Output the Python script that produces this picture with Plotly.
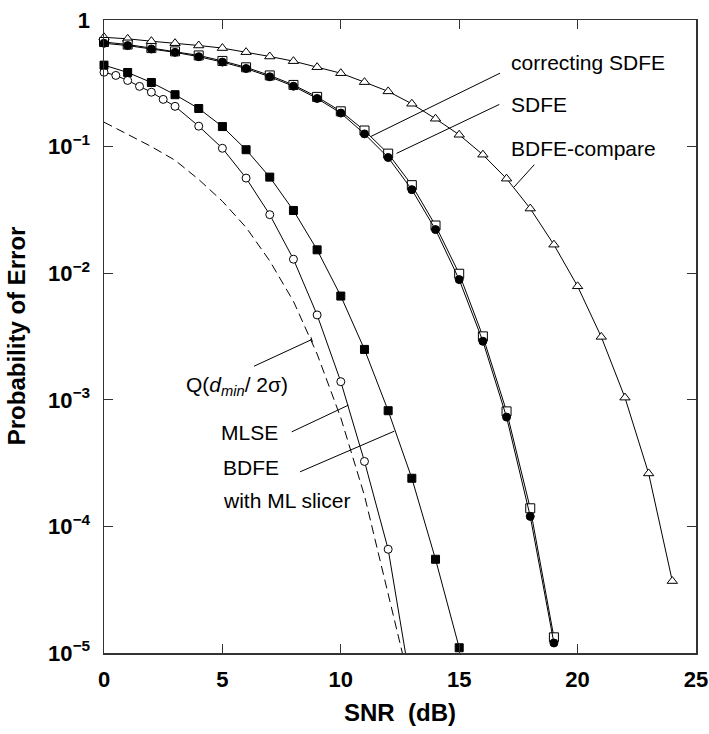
import plotly.graph_objects as go

# ---------------- data ----------------
snr_compare = list(range(0, 25))
bdfe_compare = [0.73, 0.71, 0.68, 0.656, 0.629, 0.60, 0.557, 0.515, 0.473, 0.424,
                0.38, 0.323, 0.273, 0.218, 0.166, 0.124, 0.0863, 0.0558, 0.0324,
                0.0168, 0.00788, 0.00314, 0.00104, 2.62e-4, 3.7e-5]

snr_sdfe = list(range(0, 20))
sdfe = [0.67, 0.64, 0.60, 0.565, 0.525, 0.475, 0.423, 0.365, 0.307, 0.247,
        0.19, 0.134, 0.088, 0.0496, 0.0238, 0.0099, 0.00317, 8.1e-4, 1.39e-4, 1.33e-5]
corr_sdfe = [0.655, 0.628, 0.59, 0.555, 0.513, 0.465, 0.414, 0.356, 0.300, 0.240,
             0.184, 0.126, 0.082, 0.0457, 0.0221, 0.0089, 0.0029, 7.3e-4, 1.2e-4, 1.2e-5]

snr_bdfe_ml = list(range(0, 16))
bdfe_ml = [0.440, 0.385, 0.321, 0.257, 0.200, 0.144, 0.0945, 0.0574, 0.0313, 0.0153,
           0.0066, 0.0025, 8.2e-4, 2.4e-4, 5.5e-5, 1.1e-5]

snr_mlse = [0, 0.5, 1, 1.5, 2, 2.5, 3, 4, 5, 6, 7, 8, 9, 10, 11, 12, 13]
mlse = [0.387, 0.365, 0.333, 0.299, 0.269, 0.236, 0.208, 0.145, 0.097, 0.0564,
        0.029, 0.0129, 0.00468, 0.00139, 3.26e-4, 6.6e-5, 5e-6]

snr_q = [0, 1, 2, 3, 4, 5, 6, 7, 8, 9, 10, 11, 12, 12.6, 13]
q_bound = [0.156, 0.125, 0.100, 0.078, 0.055, 0.037, 0.023, 0.0125, 0.0060,
           0.0023, 7.2e-4, 1.75e-4, 3.0e-5, 1.0e-5, 3.5e-6]

x_tick_vals = [0, 5, 10, 15, 20, 25]
x_tick_text = ["0", "5", "10", "15", "20", "25"]
y_tick_vals = [1e-5, 1e-4, 1e-3, 1e-2, 1e-1, 1]
y_tick_text = ["10<sup>\u22125</sup>", "10<sup>\u22124</sup>", "10<sup>\u22123</sup>",
               "10<sup>\u22122</sup>", "10<sup>\u22121</sup>", "1"]

# ---------------- layout helpers ----------------
W, H = 709, 734
# plot area edges in pixels
L, R, T, B = 104, 696, 19.5, 653


def px(x):
    return (x - L) / (R - L)


def py(y):
    return (B - y) / (B - T)


FONT = "Liberation Sans, Arial, Helvetica, sans-serif"
ymin = 1e-5

fig = go.Figure()

# dashed bound
fig.add_trace(go.Scatter(x=snr_q, y=q_bound, mode="lines",
                         line=dict(color="black", width=1, dash="9px,5px"),
                         showlegend=False))

# MLSE line (continues below the axis) + markers inside range
fig.add_trace(go.Scatter(x=snr_mlse, y=mlse, mode="lines",
                         line=dict(color="black", width=1), showlegend=False))
mx = [x for x, y in zip(snr_mlse, mlse) if y >= ymin]
my = [y for y in mlse if y >= ymin]
fig.add_trace(go.Scatter(x=mx, y=my, mode="markers", cliponaxis=False,
                         marker=dict(symbol="circle", size=8, color="white",
                                     line=dict(color="black", width=1)),
                         showlegend=False))

# BDFE with ML slicer
fig.add_trace(go.Scatter(x=snr_bdfe_ml, y=bdfe_ml, mode="lines+markers", cliponaxis=False,
                         line=dict(color="black", width=1),
                         marker=dict(symbol="square", size=8, color="black",
                                     line=dict(color="black", width=1)),
                         showlegend=False))

# BDFE-compare
fig.add_trace(go.Scatter(x=snr_compare, y=bdfe_compare, mode="lines+markers", cliponaxis=False,
                         line=dict(color="black", width=1),
                         marker=dict(symbol="triangle-up", size=9, color="white",
                                     line=dict(color="black", width=1)),
                         showlegend=False))

# SDFE
fig.add_trace(go.Scatter(x=snr_sdfe, y=sdfe, mode="lines+markers", cliponaxis=False,
                         line=dict(color="black", width=1),
                         marker=dict(symbol="square", size=9, color="white",
                                     line=dict(color="black", width=1)),
                         showlegend=False))

# correcting SDFE
fig.add_trace(go.Scatter(x=snr_sdfe, y=corr_sdfe, mode="lines+markers", cliponaxis=False,
                         line=dict(color="black", width=1),
                         marker=dict(symbol="circle", size=8, color="black",
                                     line=dict(color="black", width=1)),
                         showlegend=False))

axis_common = dict(showline=True, linecolor="#333", linewidth=1.5, mirror="ticks",
                   ticks="inside", ticklen=9, tickwidth=1, tickcolor="#333",
                   showgrid=False, zeroline=False, automargin=False,
                   ticklabeloverflow="allow",
                   tickfont=dict(family=FONT, size=22, color="black", weight="bold"))

fig.update_xaxes(range=[0, 25], tickvals=x_tick_vals, ticktext=x_tick_text,
                 ticklabelstandoff=6, **axis_common)
fig.update_yaxes(type="log", range=[-5, 0], tickvals=y_tick_vals, ticktext=y_tick_text,
                 ticklabelstandoff=8, **axis_common)

ann_font = dict(family=FONT, size=21, color="black")
annotations = [
    dict(text="correcting SDFE", x=px(509), y=py(62)),
    dict(text="SDFE", x=px(509), y=py(104)),
    dict(text="BDFE-compare", x=px(509), y=py(148)),
    dict(text="Q(<i>d<sub>min</sub></i>/ 2\u03c3)", x=px(184), y=py(386)),
    dict(text="MLSE", x=px(219), y=py(432)),
    dict(text="BDFE", x=px(221), y=py(467)),
    dict(text="with ML slicer", x=px(221), y=py(500)),
]
for a in annotations:
    fig.add_annotation(xref="paper", yref="paper", xanchor="left", yanchor="middle",
                       showarrow=False, font=ann_font, **a)

# axis titles
fig.add_annotation(text="<b>Probability of Error</b>", xref="paper", yref="paper",
                   x=px(16), y=py(336), textangle=-90, showarrow=False,
                   xanchor="center", yanchor="middle",
                   font=dict(family=FONT, size=24, color="black"))
fig.add_annotation(text="<b>SNR\u00a0\u00a0(dB)</b>", xref="paper", yref="paper",
                   x=px(400), y=py(713), showarrow=False,
                   xanchor="center", yanchor="middle",
                   font=dict(family=FONT, size=24, color="black"))

# leader lines
leaders = [
    ((500, 72.7), (371, 136)),
    ((499.3, 104), (396.5, 153)),
    ((534.3, 164.3), (514, 186.7)),
    ((254, 366), (311.7, 339.3)),
    ((311, 337), (312.5, 342)),
    ((291.7, 431.7), (348.3, 405)),
    ((300, 471.7), (394.3, 431)),
]
for (x0, y0), (x1, y1) in leaders:
    fig.add_shape(type="line", xref="paper", yref="paper",
                  x0=px(x0), y0=py(y0), x1=px(x1), y1=py(y1),
                  line=dict(color="black", width=1))

fig.update_layout(width=W, height=H, plot_bgcolor="white", paper_bgcolor="white",
                  margin=dict(l=L, r=W - R, t=T, b=H - B, pad=0),
                  showlegend=False, hovermode=False)

fig.write_html("out.html",
               config={"displayModeBar": False, "staticPlot": True},
               post_script="document.body.style.margin='0';"
                           "document.body.style.overflow='hidden';")
